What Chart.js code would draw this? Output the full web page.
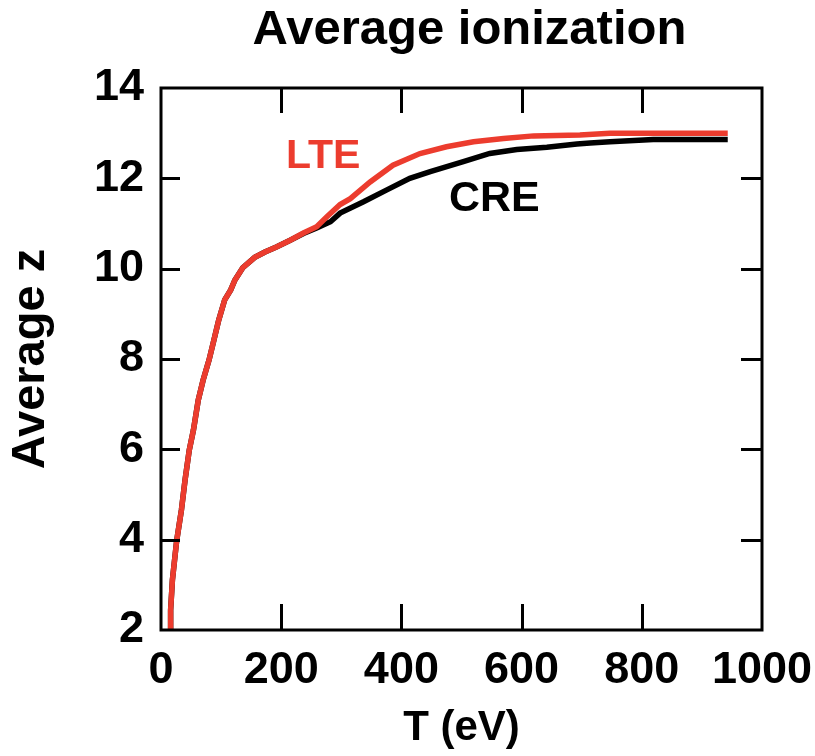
<!DOCTYPE html>
<html>
<head>
<meta charset="utf-8">
<title>Average ionization</title>
<script src="https://cdn.jsdelivr.net/npm/chart.js@4/dist/chart.umd.min.js"></script>
<style>
  html, body { margin: 0; padding: 0; background: #fff; }
  canvas { display: block; }
</style>
</head>
<body>
<canvas id="chart" width="815" height="756"></canvas>
<script>
// Temperature grid (eV) and average charge state for the LTE model
const lteT = [15, 16, 19, 26, 34, 40, 47, 54, 62, 70, 80, 88, 96, 106, 116, 123, 136, 156, 173, 192, 215, 237, 259, 276, 298, 315, 348, 386, 431, 475, 520, 570, 620, 697, 747, 820, 943];
const lteZ = [1.9, 2.44, 3.11, 3.97, 4.66, 5.32, 5.98, 6.43, 7.09, 7.53, 7.98, 8.42, 8.86, 9.31, 9.53, 9.75, 10.02, 10.25, 10.37, 10.48, 10.63, 10.79, 10.93, 11.15, 11.42, 11.55, 11.92, 12.29, 12.55, 12.70, 12.81, 12.88, 12.94, 12.96, 13.0, 13.0, 13.0];

// Same quantity from the collisional-radiative (CRE) model
const creT = [15, 16, 19, 26, 34, 40, 47, 54, 62, 70, 80, 88, 96, 106, 116, 123, 136, 156, 173, 192, 215, 237, 259, 282, 298, 337, 375, 414, 448, 503, 547, 592, 642, 692, 714, 747, 819, 943];
const creZ = [1.9, 2.44, 3.11, 3.97, 4.66, 5.32, 5.98, 6.43, 7.09, 7.53, 7.98, 8.42, 8.86, 9.31, 9.53, 9.75, 10.02, 10.25, 10.37, 10.48, 10.63, 10.78, 10.90, 11.04, 11.23, 11.48, 11.74, 12.00, 12.15, 12.37, 12.55, 12.64, 12.69, 12.76, 12.78, 12.81, 12.86, 12.86];

// Axis tick values
const xTicks = [0, 200, 400, 600, 800, 1000];
const yTicks = [2, 4, 6, 8, 10, 12, 14];

const RED = 'rgb(236, 60, 46)';
const FONT = '"Liberation Sans", Arial, Helvetica, sans-serif';

const toPoints = (xs, ys) => xs.map((t, i) => ({ x: t, y: ys[i] }));

// Boxed frame with inward ticks on all four sides, title and in-plot series labels
const framePlugin = {
  id: 'frame',
  afterDraw(chart) {
    const { ctx, chartArea: a, scales: { x, y } } = chart;
    ctx.save();
    ctx.strokeStyle = '#000';
    ctx.lineWidth = 3;
    ctx.lineCap = 'butt';
    ctx.beginPath();
    xTicks.forEach(v => {
      if (v <= x.min || v >= x.max) return;
      const px = Math.round(x.getPixelForValue(v)) + 0.5;
      ctx.moveTo(px, a.bottom); ctx.lineTo(px, a.bottom - 26);
      ctx.moveTo(px, a.top); ctx.lineTo(px, a.top + 25);
    });
    yTicks.forEach(v => {
      if (v <= y.min || v >= y.max) return;
      const py = Math.round(y.getPixelForValue(v)) + 0.5;
      ctx.moveTo(a.left, py); ctx.lineTo(a.left + 19, py);
      ctx.moveTo(a.right, py); ctx.lineTo(a.right - 21, py);
    });
    ctx.stroke();
    ctx.strokeRect(a.left, a.top, a.right - a.left, a.bottom - a.top);

    // chart title
    ctx.fillStyle = '#000';
    ctx.font = 'bold 49px ' + FONT;
    ctx.textAlign = 'center';
    ctx.textBaseline = 'alphabetic';
    ctx.fillText('Average ionization', (a.left + a.right) / 2 + 8, 44);

    // series labels placed in data coordinates
    ctx.textAlign = 'left';
    ctx.font = 'bold 41px ' + FONT;
    ctx.fillStyle = RED;
    ctx.fillText('LTE', x.getPixelForValue(208), y.getPixelForValue(12.23));
    ctx.font = 'bold 43px ' + FONT;
    ctx.fillStyle = '#000';
    ctx.fillText('CRE', x.getPixelForValue(479), y.getPixelForValue(11.28));
    ctx.restore();
  }
};

new Chart(document.getElementById('chart'), {
  type: 'line',
  data: {
    datasets: [
      {
        label: 'LTE',
        data: toPoints(lteT, lteZ),
        borderColor: RED,
        borderWidth: 5.5,
        pointRadius: 0,
        tension: 0,
        order: 0
      },
      {
        label: 'CRE',
        data: toPoints(creT, creZ),
        borderColor: '#000',
        borderWidth: 5.5,
        pointRadius: 0,
        tension: 0,
        order: 1
      }
    ]
  },
  options: {
    responsive: false,
    animation: false,
    events: [],
    layout: { padding: { top: 88, right: 53, bottom: 0, left: 0 } },
    plugins: {
      legend: { display: false },
      title: { display: false },
      tooltip: { enabled: false }
    },
    scales: {
      x: {
        type: 'linear',
        min: 0,
        max: 1000,
        afterBuildTicks: s => { s.ticks = xTicks.map(v => ({ value: v })); },
        afterFit: s => { s.height = 126; s.paddingLeft = 0; s.paddingRight = 0; },
        grid: { display: false, drawTicks: false },
        border: { display: false },
        ticks: {
          color: '#000',
          padding: 14,
          maxRotation: 0,
          callback: v => String(v),
          font: { family: FONT, size: 45, weight: 'bold' }
        },
        title: {
          display: true,
          text: 'T (eV)',
          color: '#000',
          font: { family: FONT, size: 42, weight: 'bold', lineHeight: 1.2 },
          padding: { top: 0, bottom: 2 }
        }
      },
      y: {
        type: 'linear',
        min: 2,
        max: 14,
        afterBuildTicks: s => { s.ticks = yTicks.map(v => ({ value: v })); },
        afterFit: s => { s.width = 161; s.paddingTop = 0; s.paddingBottom = 0; },
        grid: { display: false, drawTicks: false },
        border: { display: false },
        ticks: {
          color: '#000',
          padding: 17,
          callback: v => String(v),
          font: { family: FONT, size: 45, weight: 'bold' }
        },
        title: {
          display: true,
          text: 'Average z',
          color: '#000',
          font: { family: FONT, size: 47, weight: 'bold', lineHeight: 1.2 },
          padding: { top: 3, bottom: 0 }
        }
      }
    }
  },
  plugins: [framePlugin]
});
</script>
</body>
</html>
